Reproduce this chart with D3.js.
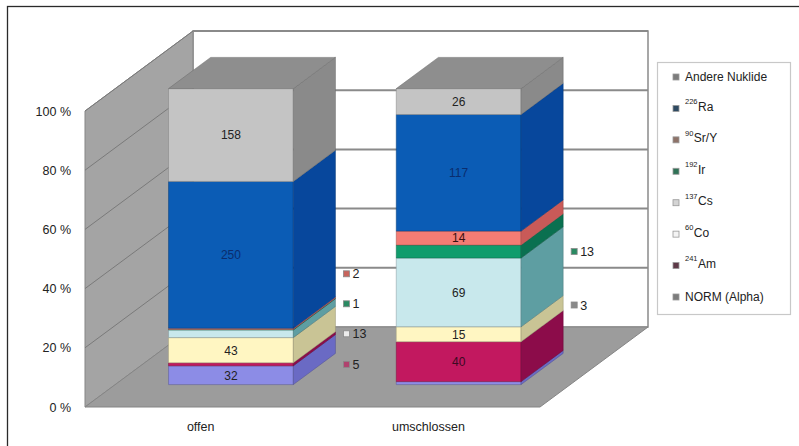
<!DOCTYPE html>
<html>
<head>
<meta charset="utf-8">
<script src="https://cdn.jsdelivr.net/npm/d3@7"></script>
<style>
  body { margin: 0; background: #fff; }
  svg { display: block; font-family: "Liberation Sans", Arial, sans-serif; }
</style>
</head>
<body>
<svg id="chart" width="799" height="446"></svg>
<script>
// ---- data ----
const categories = ["offen", "umschlossen"];
// stacking order, bottom to top
const seriesSup  = ["", "241", "60", "137", "192", "90", "226", ""];
const seriesBase = ["NORM (Alpha)", "Am", "Co", "Cs", "Ir", "Sr/Y", "Ra", "Andere Nuklide"];
const valuesOffen       = [32, 5, 43, 13, 1, 2, 250, 158];
const valuesUmschlossen = [3, 40, 15, 69, 13, 14, 117, 26];
const tickValues = [0, 0.2, 0.4, 0.6, 0.8, 1];
const tickLabels = ["0 %", "20 %", "40 %", "60 %", "80 %", "100 %"];

// ---- styles ----
const frontColors  = ["#8c8ce6", "#c2185f", "#fff6c2", "#c8e8ec", "#109c6c", "#f47c74", "#0b5cb5", "#c4c4c4"];
const sideColors   = ["#6a6ac4", "#8c0c4a", "#c9c495", "#5e9ea2", "#0a7050", "#c95a58", "#07479c", "#8a8a8a"];
const textColors   = ["#222", "#3b0a22", "#222", "#222", "#222", "#3a1010", "#0a2d6e", "#222"];
const markerColors = ["#8a8a8a", "#b0426e", "#f2f2f2", "#ececec", "#2a8a62", "#c8645c", "#2e4c6c", "#8a8a8a"];
const legendMarkerColors = ["#7c7c7c", "#5e3a48", "#f4f4f4", "#d4d4d4", "#2f7256", "#8e7268", "#2e4a62", "#7c7c7c"];

const svg = d3.select("#chart");

// outer frame (open to the right and bottom)
svg.append("rect")
  .attr("x", 7.5).attr("y", 6.5).attr("width", 900).attr("height", 600)
  .attr("fill", "none").attr("stroke", "#2a2a2a").attr("stroke-width", 1.3);

// ---- 3D projection ----
const DX = 108, DY = -80;          // depth vector of the plot box
const d0 = 0.28, d1 = 0.67;        // depth range of the bars
const y = d3.scaleLinear().domain([0, 1]).range([407, 111]);
const x = d3.scaleBand().domain(categories).range([85, 540])
  .paddingInner(0.452).paddingOuter(0.225).align(0.52);
const P = (px, v, d) => [px + d * DX, y(v) + d * DY];
const poly = pts => "M" + pts.map(p => p.join(",")).join("L") + "Z";

const [xL, xR] = x.range();

// back wall
svg.append("path")
  .attr("d", poly([P(xL, 1, 1), P(xR, 1, 1), P(xR, 0, 1), P(xL, 0, 1)]))
  .attr("fill", "#fff").attr("stroke", "#8a8a8a").attr("stroke-width", 1.5);

// side wall
svg.append("path")
  .attr("d", poly([P(xL, 0, 0), P(xL, 1, 0), P(xL, 1, 1), P(xL, 0, 1)]))
  .attr("fill", "#a4a4a4").attr("stroke", "#858585").attr("stroke-width", 1);

// floor
svg.append("path")
  .attr("d", poly([P(xL, 0, 0), P(xR, 0, 0), P(xR, 0, 1), P(xL, 0, 1)]))
  .attr("fill", "#9c9c9c").attr("stroke", "#858585").attr("stroke-width", 1);

// gridlines on the back and side walls
tickValues.filter(v => v > 0).forEach(v => {
  svg.append("line")
    .attr("x1", P(xL, v, 1)[0]).attr("y1", P(xL, v, 1)[1])
    .attr("x2", P(xR, v, 1)[0]).attr("y2", P(xR, v, 1)[1])
    .attr("stroke", "#8a8a8a").attr("stroke-width", 2);
  svg.append("line")
    .attr("x1", P(xL, v, 0)[0]).attr("y1", P(xL, v, 0)[1])
    .attr("x2", P(xL, v, 1)[0]).attr("y2", P(xL, v, 1)[1])
    .attr("stroke", "#7a7a7a").attr("stroke-width", 1);
});

// ---- axes ----
const yAxis = d3.axisLeft(y).tickValues(tickValues)
  .tickFormat((d, i) => tickLabels[i]).tickSize(0).tickPadding(14);
const gy = svg.append("g").attr("transform", `translate(${xL},0)`).call(yAxis);
gy.select(".domain").remove();
gy.selectAll("text").attr("font-size", 12.5).attr("fill", "#222")
  .attr("font-family", "Liberation Sans, Arial, sans-serif");

const xAxis = d3.axisBottom(x).tickSize(0).tickPadding(15);
const gx = svg.append("g").attr("transform", `translate(0,${y(0)})`).call(xAxis);
gx.select(".domain").remove();
gx.selectAll("text").attr("font-size", 12.5).attr("fill", "#222")
  .attr("font-family", "Liberation Sans, Arial, sans-serif");

// ---- bars ----
const barData = [valuesOffen, valuesUmschlossen];
const floorCornerX = P(xR, 0, 0)[0];

barData.forEach((vals, bi) => {
  const cat = categories[bi];
  const total = d3.sum(vals);
  const x0 = x(cat), x1 = x0 + x.bandwidth();
  const g = svg.append("g");
  let acc = 0;
  const segs = vals.map((v, si) => {
    const s = { si, v, a: acc / total, b: (acc + v) / total };
    acc += v;
    return s;
  }).filter(s => s.v > 0);

  segs.forEach(s => {
    // front face
    const f = [P(x0, s.b, d0), P(x1, s.b, d0), P(x1, s.a, d0), P(x0, s.a, d0)];
    g.append("path").attr("d", poly(f))
      .attr("fill", frontColors[s.si])
      .attr("stroke", d3.color(frontColors[s.si]).darker(1.2)).attr("stroke-width", 0.5);
    // right side face
    const sd = [P(x1, s.b, d0), P(x1, s.b, d1), P(x1, s.a, d1), P(x1, s.a, d0)];
    g.append("path").attr("d", poly(sd))
      .attr("fill", sideColors[s.si])
      .attr("stroke", d3.color(sideColors[s.si]).darker(0.8)).attr("stroke-width", 0.5);
  });

  // top face of the stack
  const top = segs[segs.length - 1];
  g.append("path")
    .attr("d", poly([P(x0, 1, d0), P(x1, 1, d0), P(x1, 1, d1), P(x0, 1, d1)]))
    .attr("fill", d3.color(frontColors[top.si]).darker(0.9))
    .attr("stroke", "#6a6a6a").attr("stroke-width", 0.5);

  // value labels: inside when the segment is tall enough, otherwise beside the bar
  const outside = [];
  segs.forEach(s => {
    const yt = P(x0, s.b, d0)[1], yb = P(x0, s.a, d0)[1];
    const mid = (yt + yb) / 2;
    if (yb - yt >= 13.5) {
      g.append("text")
        .attr("x", (x0 + x1) / 2 + d0 * DX).attr("y", mid)
        .attr("dy", "0.36em").attr("text-anchor", "middle")
        .attr("font-size", 12).attr("fill", textColors[s.si])
        .text(s.v);
    } else {
      outside.push({ s, y: mid });
    }
  });

  // stack the outside labels upward, keeping a fixed spacing
  const mx = P(x1, 0, d1)[0] + 11;
  outside.sort((p, q) => q.y - p.y);
  let prev = Infinity;
  outside.forEach(o => {
    let yy = Math.min(o.y, prev - 30);
    // labels past the floor's front corner sit on the back wall
    if (mx > floorCornerX) yy = Math.min(yy, P(xR, 0, 1)[1] - 22);
    o.y = yy; prev = yy;
    g.append("rect")
      .attr("x", mx - 3).attr("y", yy - 3).attr("width", 6).attr("height", 6)
      .attr("fill", markerColors[o.s.si]).attr("stroke", "#8a8a8a").attr("stroke-width", 0.8);
    g.append("text")
      .attr("x", mx + 6).attr("y", yy).attr("dy", "0.36em")
      .attr("font-size", 12.5).attr("fill", "#222")
      .text(o.s.v);
  });
});

// ---- legend ----
const legend = svg.append("g");
legend.append("rect")
  .attr("x", 657.5).attr("y", 62.5).attr("width", 133).attr("height", 252)
  .attr("fill", "#fff").attr("stroke", "#c8c8c8").attr("stroke-width", 1.2);

const order = d3.range(seriesBase.length).reverse();
const ly = d3.scalePoint().domain(order).range([77, 297]);
order.forEach(si => {
  const yy = ly(si);
  legend.append("rect")
    .attr("x", 673).attr("y", yy - 3).attr("width", 6).attr("height", 6)
    .attr("fill", legendMarkerColors[si]).attr("stroke", "#999").attr("stroke-width", 0.8);
  const t = legend.append("text")
    .attr("x", 685).attr("y", yy).attr("dy", "0.36em")
    .attr("font-size", 12).attr("fill", "#222");
  if (seriesSup[si]) {
    t.append("tspan").attr("font-size", 7.5).attr("dy", "-0.55em").text(seriesSup[si]);
    t.append("tspan").attr("dy", "0.55em").attr("dx", 0.5).text(seriesBase[si]);
  } else {
    t.text(seriesBase[si]);
  }
});
</script>
</body>
</html>
